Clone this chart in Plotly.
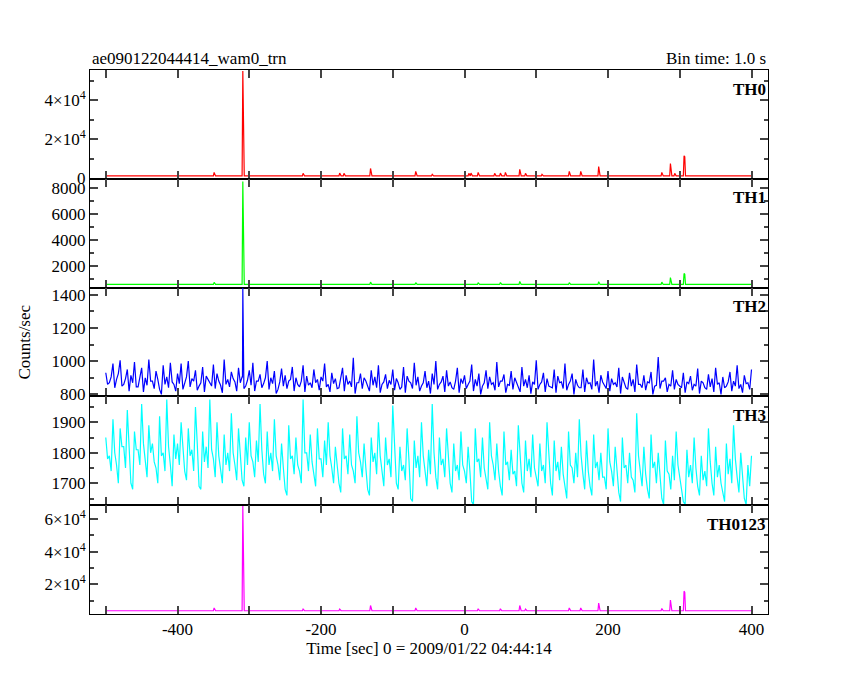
import numpy as np
import plotly.graph_objs as go
from plotly.subplots import make_subplots

# time grid (1 s bins) for the spiky channels
t_start, t_stop = -500, 400

# TH0: baseline and spikes (time, counts/sec)
th0_base = 1200
th0_spikes = [(-349, 3000), (-309, 55000), (-225, 2500), (-174, 2600), (-168, 2500),
              (-131, 5000), (-68, 3500), (-45, 2000), (6, 2500), (9, 2600), (19, 3000),
              (42, 2500), (50, 2600), (57, 3000), (77, 4500), (85, 2500), (108, 2000),
              (146, 3500), (162, 3500), (187, 6000), (275, 3000), (287, 7500),
              (293, 2500), (306, 11500), (307, 11000)]

# TH1
th1_base = 620
th1_spikes = [(-349, 780), (-309, 8500), (-131, 800), (-68, 760), (19, 760), (50, 770),
              (77, 850), (146, 760), (187, 830), (275, 800), (287, 1150), (306, 1460), (307, 1400)]

# TH2: 5 s blocks, local highs and lows
th2_step = 5
th2_high = [930, 870, 985, 890, 1005, 860, 950, 915, 995, 845, 960, 900, 1010, 880, 940, 830, 975, 905, 990, 860,
            925, 985, 870, 1000, 895, 945, 850, 965, 910, 870, 980, 925, 855, 1010, 890, 935, 875, 960, 905, 850,
            945, 990, 880, 920, 865, 1000, 900, 940, 830, 955, 915, 880, 965, 900, 845, 975, 910, 870, 950, 890,
            905, 985, 860, 930, 895, 840, 960, 915, 880, 1020, 870, 925, 900, 850, 945, 905, 975, 860, 920, 885,
            950, 895, 830, 965, 910, 870, 990, 905, 850, 940, 880, 925, 1000, 860, 910, 945, 875, 830, 960, 895,
            915, 860, 980, 890, 925, 850, 945, 905, 870, 995, 880, 920, 860, 940, 900, 840, 965, 890, 915, 875,
            1005, 860, 930, 895, 845, 950, 910, 875, 985, 860, 925, 890, 840, 950, 900, 870, 1010, 880, 915, 855,
            940, 895, 870, 960, 905, 840, 930, 890, 980, 860, 915, 875, 935, 850, 1025, 880, 900, 860, 945, 890,
            850, 930, 875, 910, 860, 955, 880, 840, 920, 895, 960, 870, 905, 850, 935, 880, 975, 860, 915, 870, 950]
th2_low = [860, 905, 840, 925, 850, 895, 820, 870, 845, 900, 815, 855, 880, 835, 890, 800, 860, 840, 875, 820,
           865, 830, 905, 845, 880, 825, 870, 815, 890, 850, 835, 880, 810, 860, 845, 895, 820, 870, 835, 885,
           855, 820, 880, 840, 900, 830, 865, 805, 875, 850, 835, 890, 820, 860, 880, 815, 855, 840, 870, 825,
           880, 845, 815, 865, 835, 890, 820, 860, 845, 805, 870, 835, 880, 820, 855, 840, 810, 875, 835, 860,
           825, 870, 845, 810, 880, 835, 855, 820, 870, 840, 805, 860, 830, 875, 815, 850, 840, 880, 810, 865,
           835, 880, 820, 850, 800, 870, 835, 860, 825, 845, 880, 810, 855, 830, 870, 815, 850, 840, 805, 860,
           830, 875, 815, 850, 840, 810, 870, 835, 825, 880, 800, 855, 840, 815, 865, 830, 850, 810, 875, 835,
           820, 860, 845, 805, 870, 830, 850, 815, 860, 840, 825, 870, 800, 855, 835, 880, 815, 850, 830, 860,
           840, 810, 865, 825, 850, 805, 870, 830, 845, 815, 860, 800, 840, 875, 820, 850, 835, 810, 865, 830, 845]
th2_spikes = [(-309, 1440)]

# TH3: 5 s blocks, local highs and lows
th3_step = 5
th3_high = [1850, 1790, 1910, 1760, 1880, 1820, 1940, 1700, 1870, 1810, 1960, 1780, 1890, 1830, 1750, 1920, 1800, 1975, 1760, 1860,
            1830, 1900, 1740, 1880, 1810, 1950, 1690, 1870, 1820, 1975, 1780, 1900, 1740, 1860, 1800, 1930, 1760, 1880, 1710, 1850,
            1900, 1770, 1840, 1960, 1730, 1870, 1800, 1910, 1760, 1830, 1680, 1890, 1790, 1850, 1740, 1975, 1800, 1860, 1720, 1880,
            1780, 1840, 1900, 1750, 1820, 1700, 1880, 1790, 1860, 1740, 1920, 1770, 1830, 1680, 1850, 1800, 1900, 1730, 1850, 1780,
            1955, 1700, 1820, 1760, 1880, 1650, 1840, 1790, 1900, 1740, 1810, 1960, 1720, 1850, 1780, 1880, 1700, 1830, 1760, 1870,
            1740, 1820, 1640, 1880, 1780, 1850, 1720, 1900, 1760, 1830, 1690, 1870, 1770, 1810, 1740, 1890, 1700, 1840, 1780, 1860,
            1720, 1830, 1760, 1900, 1700, 1840, 1770, 1820, 1680, 1870, 1750, 1800, 1910, 1730, 1840, 1690, 1860, 1770, 1800, 1720,
            1880, 1740, 1820, 1670, 1850, 1760, 1800, 1710, 1930, 1740, 1820, 1680, 1860, 1770, 1800, 1650, 1840, 1730, 1790, 1870,
            1720, 1640, 1810, 1760, 1850, 1690, 1790, 1740, 1880, 1700, 1820, 1760, 1670, 1830, 1780, 1890, 1720, 1800, 1650, 1760, 1790]
th3_low = [1780, 1740, 1800, 1700, 1820, 1750, 1790, 1680, 1810, 1760, 1830, 1720, 1800, 1770, 1700, 1790, 1740, 1820, 1690, 1780,
           1760, 1800, 1710, 1790, 1740, 1830, 1680, 1770, 1750, 1810, 1720, 1790, 1700, 1760, 1740, 1800, 1710, 1780, 1690, 1760,
           1790, 1720, 1770, 1810, 1700, 1760, 1740, 1790, 1710, 1750, 1660, 1780, 1730, 1760, 1700, 1800, 1740, 1770, 1690, 1780,
           1720, 1760, 1790, 1700, 1750, 1670, 1780, 1730, 1760, 1700, 1800, 1720, 1750, 1660, 1770, 1730, 1790, 1690, 1760, 1720,
           1800, 1680, 1740, 1710, 1780, 1640, 1750, 1720, 1790, 1690, 1730, 1800, 1680, 1760, 1720, 1770, 1670, 1740, 1710, 1760,
           1700, 1740, 1630, 1770, 1720, 1750, 1680, 1790, 1710, 1740, 1660, 1760, 1710, 1730, 1690, 1780, 1670, 1740, 1720, 1750,
           1690, 1740, 1700, 1780, 1660, 1740, 1710, 1730, 1650, 1760, 1700, 1720, 1790, 1680, 1740, 1660, 1750, 1710, 1720, 1680,
           1770, 1690, 1730, 1640, 1750, 1700, 1720, 1670, 1790, 1690, 1730, 1650, 1750, 1700, 1720, 1630, 1740, 1680, 1710, 1760,
           1680, 1630, 1720, 1700, 1750, 1660, 1710, 1690, 1770, 1660, 1720, 1700, 1640, 1730, 1700, 1780, 1670, 1710, 1630, 1690, 1720]

# TH0123
th0123_base = 3800
th0123_spikes = [(-349, 5500), (-309, 68000), (-225, 4800), (-174, 4800), (-131, 7000),
                 (-68, 5500), (19, 5000), (50, 5000), (77, 7000), (85, 4800), (146, 5500),
                 (162, 5500), (187, 8500), (275, 5200), (287, 10400), (306, 15800), (307, 15000)]

labels = ['TH0', 'TH1', 'TH2', 'TH3', 'TH0123']
colors = ['#ff0000', '#00ff00', '#0000ff', '#00ffff', '#ff00ff']
yranges = [[-300, 55500], [380, 8700], [788, 1442], [1628, 1985], [1800, 68500]]


def spiky(base, spikes):
    t = np.arange(t_start, t_stop + 1)
    y = np.full(len(t), float(base))
    for ts, v in spikes:
        y[ts - t_start] = v
    return t, y


def banded(high, low, step, spikes=()):
    t, y = [], []
    for i in range(len(high)):
        t += [t_start + step * i, t_start + step * i + step / 2]
        y += [high[i], low[i]]
    t, y = t[:-1], y[:-1]
    for ts, v in spikes:
        i = int(np.searchsorted(t, ts))
        t[i:i] = [ts - 0.5, ts, ts + 0.5]
        y[i:i] = [y[i - 1], v, y[i]]
    return t, y


series = [spiky(th0_base, th0_spikes), spiky(th1_base, th1_spikes),
          banded(th2_high, th2_low, th2_step, th2_spikes), banded(th3_high, th3_low, th3_step),
          spiky(th0123_base, th0123_spikes)]

fig = make_subplots(rows=5, cols=1, shared_xaxes=True, vertical_spacing=0)
for i, (t, y) in enumerate(series):
    fig.add_trace(go.Scatter(x=t, y=y, mode='lines', line=dict(color=colors[i], width=1.2),
                             showlegend=False), row=i + 1, col=1)

font = dict(family='Liberation Serif', color='black', size=17)
sup_ticks = {0: ([0, 20000, 40000], ['0', '2×10<sup>4</sup>', '4×10<sup>4</sup>']),
             4: ([20000, 40000, 60000], ['2×10<sup>4</sup>', '4×10<sup>4</sup>', '6×10<sup>4</sup>'])}
minor_y = [10000, 1000, 100, 50, 10000]
for i in range(5):
    ax = dict(range=yranges[i], showgrid=False, zeroline=False, ticks='inside', ticklen=8,
              tickwidth=1.5, mirror='ticks', showline=True, linecolor='black', linewidth=1,
              tickfont=font, minor=dict(dtick=minor_y[i], ticks='inside', ticklen=4))
    if i in sup_ticks:
        ax['tickvals'], ax['ticktext'] = sup_ticks[i]
    fig.update_yaxes(ax, row=i + 1, col=1)
    fig.update_xaxes(range=[-522, 423], showgrid=False, zeroline=False, ticks='inside', ticklen=8,
                     tickwidth=1.5, mirror='ticks', showline=True, linecolor='black', linewidth=1,
                     tickvals=list(range(-500, 401, 100)),
                     ticktext=['' if v % 200 else str(v) for v in range(-500, 401, 100)],
                     tickfont=font, row=i + 1, col=1)
    ref = 'y' if i == 0 else 'y%d' % (i + 1)
    fig.add_annotation(text='<b>%s</b>' % labels[i], xref='paper', yref=ref + ' domain',
                       x=1, y=0.93, xanchor='right', yanchor='top', showarrow=False,
                       font=font)

fig.update_xaxes(title=dict(text='Time [sec] 0 = 2009/01/22 04:44:14', font=font, standoff=2), row=5, col=1)
fig.add_annotation(text='ae090122044414_wam0_trn', xref='paper', yref='paper', x=0, y=1,
                   xanchor='left', yanchor='bottom', showarrow=False, font=font)
fig.add_annotation(text='Bin time: 1.0 s', xref='paper', yref='paper', x=1, y=1,
                   xanchor='right', yanchor='bottom', showarrow=False, font=font)
fig.add_annotation(text='Counts/sec', xref='paper', yref='paper', x=-0.115, y=0.5,
                   textangle=-90, showarrow=False, font=font)

fig.update_layout(width=850, height=680, margin=dict(l=82, r=90, t=62, b=74),
                  plot_bgcolor='white', paper_bgcolor='white', font=font)
fig.write_html("out.html")
